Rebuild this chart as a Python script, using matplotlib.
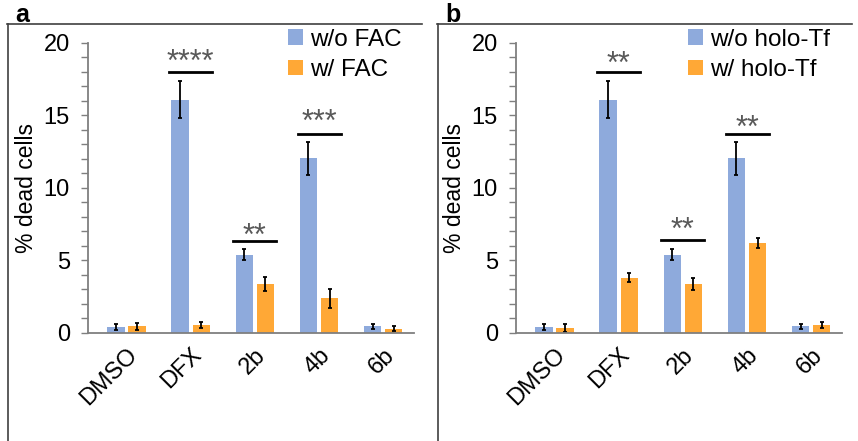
import numpy as np
import matplotlib.pyplot as plt
from matplotlib.lines import Line2D
from matplotlib.ticker import MultipleLocator

plt.rcParams['font.family'] = ['Liberation Sans', 'DejaVu Sans']

categories = ["DMSO", "DFX", "2b", "4b", "6b"]

# panel a
a_without = [0.42, 16.1, 5.4, 12.05, 0.46]
a_without_err = [0.18, 1.3, 0.38, 1.15, 0.15]
a_with = [0.47, 0.57, 3.36, 2.4, 0.3]
a_with_err = [0.25, 0.2, 0.47, 0.65, 0.15]
a_labels = ["w/o FAC", "w/ FAC"]
# (category index, bar line height, star height, stars)
a_sig = [(1, 18.0, 18.95, "****"), (2, 6.35, 6.9, "**"), (3, 13.7, 14.75, "***")]

# panel b
b_without = [0.42, 16.1, 5.4, 12.05, 0.46]
b_without_err = [0.18, 1.3, 0.38, 1.15, 0.15]
b_with = [0.35, 3.82, 3.36, 6.2, 0.55]
b_with_err = [0.25, 0.3, 0.4, 0.37, 0.2]
b_labels = ["w/o holo-Tf", "w/ holo-Tf"]
b_sig = [(1, 18.0, 18.75, "**"), (2, 6.4, 7.3, "**"), (3, 13.7, 14.4, "**")]

blue = "#8eaadc"
orange = "#ffa836"

fig = plt.figure(figsize=(8.58, 4.41), dpi=100)


def panel(left, letter, without, without_err, with_, with_err, labels, sig, frame_x):
    ax = fig.add_axes([left, 0.2449, 0.380, 0.6576])
    x = np.arange(len(categories))
    w = 0.27
    off = 0.165
    ekw = dict(ecolor="black", elinewidth=1.3, capsize=1.5, capthick=1.3)
    ax.bar(x - off, without, w, color=blue, label=labels[0], yerr=without_err, error_kw=ekw)
    ax.bar(x + off, with_, w, color=orange, label=labels[1], yerr=with_err, error_kw=ekw)

    # significance markers
    fs = 22
    for i, y, ys, stars in sig:
        ax.plot([i - off - 0.17, i + off + 0.17], [y, y], color="black", lw=2)
        ax.annotate(stars, (i, ys), xytext=(0, -0.40 * fs), textcoords="offset points",
                    ha="center", va="baseline", fontsize=fs, color="#595959")

    ax.set_xlim(-0.6, 4.48)
    ax.set_ylim(0, 20)
    ax.yaxis.set_major_locator(MultipleLocator(5))
    ax.yaxis.set_minor_locator(MultipleLocator(1))
    ax.set_xticks(x)
    ax.set_xticklabels(categories, rotation=45, ha="right", rotation_mode="anchor", fontsize=17)
    ax.tick_params(axis="x", length=0, pad=8)
    ax.tick_params(axis="y", which="major", length=5, width=1, color="#7f7f7f", labelsize=17, pad=8)
    ax.tick_params(axis="y", which="minor", length=5, width=1, color="#7f7f7f")
    for s in ["top", "right"]:
        ax.spines[s].set_visible(False)
    for s in ["left", "bottom"]:
        ax.spines[s].set_color("#7f7f7f")
        ax.spines[s].set_linewidth(1.3)
    ax.set_ylabel("% dead cells", fontsize=16.5, labelpad=4)

    ax.legend(loc="upper right", bbox_to_anchor=(1.03, 1.125), frameon=False, fontsize=17.5,
              handlelength=0.6, handleheight=0.6, handletextpad=0.3, labelspacing=0.35)

    # outer panel frame
    fx0 = frame_x / 858
    ytop = 1 - 24 / 441
    fig.add_artist(Line2D([fx0, fx0 + 415 / 858], [ytop, ytop], color="#404040", lw=1.2))
    fig.add_artist(Line2D([fx0 + 1 / 858, fx0 + 1 / 858], [ytop, 0], color="#404040", lw=1.2))
    fig.text(fx0 + 8 / 858, ytop - 3 / 441, letter, fontsize=18, fontweight="bold",
             ha="left", va="bottom")
    return ax


panel(88 / 858, "a", a_without, a_without_err, a_with, a_with_err, a_labels, a_sig, 7)
panel(516 / 858, "b", b_without, b_without_err, b_with, b_with_err, b_labels, b_sig, 437)

fig.savefig("out.png", dpi=100)
